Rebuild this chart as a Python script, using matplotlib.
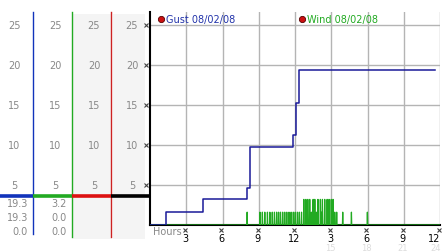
import matplotlib
matplotlib.use("Agg")
import matplotlib.pyplot as plt
import matplotlib.transforms as mtransforms

# Gust steps (hours, knots)
gust_hours = [0.0, 1.3, 1.3, 4.35, 4.35, 8.0, 8.0, 8.3, 8.3, 11.85, 11.85, 12.05, 12.05, 12.3, 12.3, 23.6]
gust_vals = [0.0, 0.0, 1.6, 1.6, 3.2, 3.2, 4.6, 4.6, 9.7, 9.7, 11.3, 11.3, 15.2, 15.2, 19.3, 19.3]

# Wind spikes (hours, height)
spike_hours = [8.04, 9.1, 9.3, 9.5, 9.72, 9.92, 10.12, 10.3, 10.48, 10.64, 10.8, 10.98, 11.15,
               11.32, 11.5, 11.68, 11.86, 12.02, 12.2, 12.36, 12.54, 12.73, 12.9, 13.06, 13.22,
               13.36, 13.5, 13.64, 13.77, 13.9, 14.1, 14.19, 14.27, 14.46, 14.66, 14.82, 15.0,
               15.15, 15.29, 15.45, 15.95, 16.67, 17.99]
spike_vals = [1.6, 1.6, 1.6, 1.6, 1.6, 1.6, 1.6, 1.6, 1.6, 1.6, 1.6, 1.6, 1.6,
              1.6, 1.6, 1.6, 1.6, 1.6, 1.6, 1.6, 1.6, 3.2, 3.2, 3.2, 3.2,
              1.6, 3.2, 3.2, 1.6, 3.2, 3.2, 1.6, 3.2, 3.2, 3.2, 3.2, 3.2,
              3.2, 1.6, 1.6, 1.6, 1.6, 1.6]

y_ticks = [5, 10, 15, 20, 25]
x_ticks = [3, 6, 9, 12, 15, 18, 21, 24]
x_labels = ["3", "6", "9", "12", "3", "6", "9", "12"]
x_labels2 = ["15", "18", "21", "24"]

col_values = [["19.3", "19.3", "0.0"], ["3.2", "0.0", "0.0"]]
slider_value = 3.6

GUST_C = "#1a1a99"
WIND_C = "#22aa22"

W, H = 442, 253
fig = plt.figure(figsize=(W / 100, H / 100), dpi=100)
fig.patch.set_facecolor("white")

# pixel transform (x right, y down)
px = mtransforms.Affine2D().scale(1 / W, -1 / H).translate(0, 1) + fig.transFigure

ax = fig.add_axes([150 / W, 27 / H, 290 / W, 213 / H])
ax.set_xlim(0, 24)
ax.set_ylim(0, 26.6)

# grid
for x in x_ticks:
    ax.plot([x, x], [0, 26.6], color="#b4b4b4", lw=1, zorder=1)
for y in y_ticks:
    ax.plot([0, 24], [y, y], color="#b4b4b4", lw=1, zorder=1)

# wind as thin spikes
wx, wy = [0.0], [0.0]
for h, v in zip(spike_hours, spike_vals):
    wx += [h - 0.025, h, h + 0.025]
    wy += [0.0, v, 0.0]
wx.append(24.0)
wy.append(0.0)
ax.plot(wx, wy, color=WIND_C, lw=0.9, zorder=3)
ax.plot(gust_hours, gust_vals, color=GUST_C, lw=1.1, zorder=4)

for s in ["top", "right"]:
    ax.spines[s].set_visible(False)
ax.spines["left"].set_linewidth(1.5)
ax.spines["bottom"].set_linewidth(1.5)
ax.set_xticks([])
ax.set_yticks([])

# tick markers
tx_y = mtransforms.blended_transform_factory(px, ax.transData)
tx_x = mtransforms.blended_transform_factory(ax.transData, px)
for y in y_ticks:
    ax.plot([146], [y], marker="x", ms=2.5, mew=0.8, color="#444444",
            transform=tx_y, clip_on=False)
for x in x_ticks:
    ax.plot([x - 0.1], [231], marker="x", ms=2.5, mew=0.8, color="#444444",
            transform=tx_x, clip_on=False)
for x, lab in zip(x_ticks, x_labels):
    ax.text(min(x - 0.1, 23.55), 239, lab, transform=tx_x, ha="center", va="center",
            fontsize=7, color="black")
for x, lab in zip(x_ticks[4:], x_labels2):
    ax.text(min(x - 0.1, 23.6), 248.5, lab, transform=tx_x, ha="center", va="center",
            fontsize=6, color="#dcdcdc")
ax.text(153, 232, "Hours", transform=px, ha="left", va="center",
        fontsize=7, color="#888888")

# legend
ax.plot([161], [20], marker="o", ms=4.5, color="#cc1111", mec="#550000", mew=0.6,
        transform=px, clip_on=False)
ax.text(166, 20, "Gust 08/02/08", transform=px, ha="left", va="center",
        fontsize=7, color="#2233aa")
ax.plot([302], [20], marker="o", ms=4.5, color="#cc1111", mec="#550000", mew=0.6,
        transform=px, clip_on=False)
ax.text(307, 20, "Wind 08/02/08", transform=px, ha="left", va="center",
        fontsize=7, color=WIND_C)

# left panel
bg = fig.add_axes([0, 0, 1, 1], zorder=-1)
bg.set_xlim(0, W)
bg.set_ylim(H, 0)
bg.axis("off")
bg.fill_between([73, 111], 15, 240, color="#f4f4f4", lw=0)
bg.fill_between([113, 145], 15, 240, color="#f4f4f4", lw=0)
bg.plot([33, 33], [13, 235], color="#1133bb", lw=1)
bg.plot([72, 72], [13, 238], color="#22aa22", lw=1)
bg.plot([111, 111], [13, 238], color="#cc2222", lw=1)

seg_x = [(0, 33, "#1133bb"), (33, 72, "#22aa22"), (72, 111, "#dd1111"), (111, 150, "black")]
for x0, x1, c in seg_x:
    bg.plot([x0, x1], [slider_value, slider_value], color=c, lw=2.6,
            transform=tx_y, solid_capstyle="butt")

for cx in [14.5, 55, 94, 132]:
    for y in y_ticks:
        bg.text(cx, y, str(y), transform=tx_y, ha="center", va="center",
                fontsize=7, color="#888888")

for rx, vals in zip([28, 67], col_values):
    for yy, v in zip([204.5, 218, 232], vals):
        bg.text(rx, yy, v, ha="right", va="center", fontsize=7, color="#888888")

fig.savefig("out.png", dpi=100)
